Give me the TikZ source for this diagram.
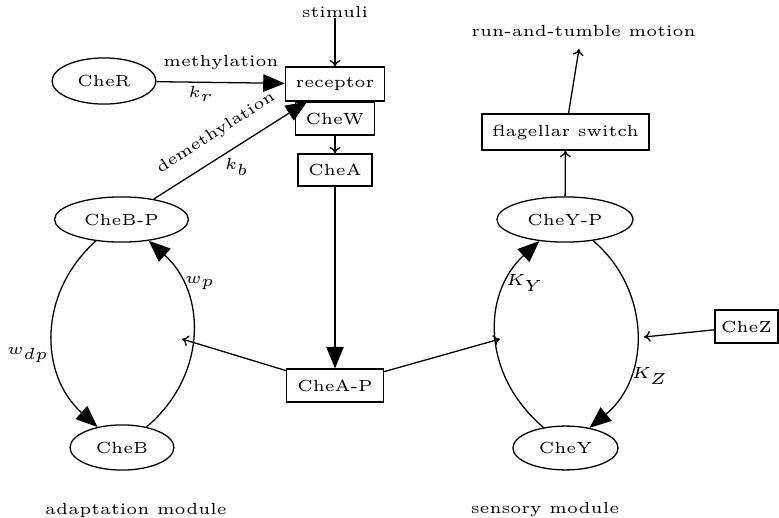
\documentclass[tikz,border=0pt]{standalone}
\usetikzlibrary{arrows.meta,shapes.geometric}
\begin{document}
\begin{tikzpicture}[x=0.31pt,y=-0.31pt,font=\tiny,line width=0.4pt,
  ell/.style={draw,ellipse,inner sep=0pt},
  box/.style={draw,rectangle,inner sep=0pt},
  bigarrow/.style={-{Triangle[length=6.7pt,width=5.4pt]}},
  smallarrow/.style={-{To[length=2pt,width=3.4pt]}}]
\useasboundingbox (0,0) rectangle (779,518);
% boxes
\node[box,minimum width=30.7pt,minimum height=10.5pt] (receptor) at (335,84) {receptor};
\node[box,minimum width=24.5pt,minimum height=10.2pt] (chew) at (335,118.5) {CheW};
\node[box,minimum width=22.9pt,minimum height=9.9pt] (chea) at (335,170) {CheA};
\node[box,minimum width=30.1pt,minimum height=10.2pt] (cheap) at (335,385.5) {CheA-P};
\node[box,minimum width=51.8pt,minimum height=11.2pt] (flag) at (565.5,132) {flagellar switch};
\node[box,minimum width=19.5pt,minimum height=10.2pt] (chez) at (746.5,326.5) {CheZ};
% ellipses
\node[ell,minimum width=32.2pt,minimum height=14.3pt] (cher) at (104,81) {CheR};
\node[ell,minimum width=41.5pt,minimum height=14pt] (chebp) at (121.5,219.5) {CheB-P};
\node[ell,minimum width=32.2pt,minimum height=14pt] (cheb) at (122,447.5) {CheB};
\node[ell,minimum width=42.2pt,minimum height=14pt] (cheyp) at (565,219.5) {CheY-P};
\node[ell,minimum width=32.6pt,minimum height=13.6pt] (chey) at (565.5,448) {CheY};
% free texts
\node[inner sep=0pt] (stimuli) at (335,11.5) {stimuli};
\node (run) at (583.5,31) {run-and-tumble motion};
\node (adapt) at (136,510) {adaptation module};
\node (sens) at (545,510) {sensory module};
% coordinates
\coordinate (wpmid) at (182,339);
\coordinate (kymid) at (500,339);
\coordinate (kzmid) at (644,337);
\coordinate (runtip) at (579,49);
% connectors
\draw[smallarrow] (stimuli.south) -- (receptor);
\draw[bigarrow] (cher) -- (receptor);
\node (lmeth) at (221,63) {methylation};
\node (lkr) at (201,94) {$k_r$};
\draw[bigarrow] (chebp) -- (receptor);
\node[rotate=32.5] (ldemeth) at (216,133) {demethylation};
\node (lkb) at (237,167) {$k_b$};
\draw[smallarrow] (chew) -- (chea);
\draw[bigarrow] (chea) -- (cheap);
\draw[smallarrow] (cheap) -- (wpmid);
\draw[smallarrow] (cheap) -- (kymid);
\draw[smallarrow] (chez) -- (kzmid);
\draw[smallarrow] (cheyp) -- (flag);
\draw[smallarrow] (flag) -- (runtip);
% cycles
\draw[bigarrow] (chebp.220) .. controls (38.5,292) and (38.5,374) .. (cheb.140);
\draw[bigarrow] (cheb.40) .. controls (207,376) and (207,293) .. (chebp.322);
\draw[bigarrow] (chey.137) .. controls (481.6,375) and (481.6,294) .. (cheyp.220);
\draw[bigarrow] (cheyp.323) .. controls (651,290) and (651,377) .. (chey.40);
\node (lwdp) at (28,355) {$w_{dp}$};
\node (lwp) at (200,283) {$w_p$};
\node (lky) at (525,283) {$K_Y$};
\node (lkz) at (650,376) {$K_Z$};
\end{tikzpicture}
\end{document}
